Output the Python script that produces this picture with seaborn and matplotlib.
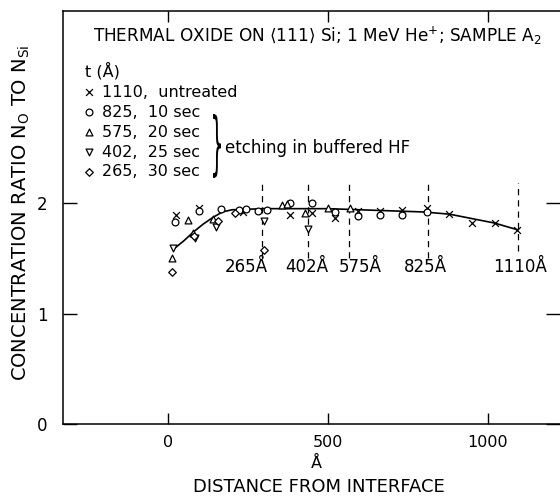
#!/usr/bin/env python3

import matplotlib

matplotlib.use("Agg")
import matplotlib.pylab as plt
import seaborn as sns
from matplotlib.patches import PathPatch
from matplotlib.textpath import TextPath
from matplotlib.transforms import Affine2D, IdentityTransform

sns.set_theme(style="ticks")
plt.rcParams["font.family"] = ["DejaVu Sans"]
plt.rcParams["mathtext.fontset"] = "dejavusans"
plt.rcParams["text.color"] = "black"
plt.rcParams["xtick.color"] = "black"
plt.rcParams["ytick.color"] = "black"

# Series (distance in angstrom, ratio N_O / N_Si)
untreated_x = [25, 97, 234, 381, 450, 522, 594, 662, 731, 809, 878, 950, 1022, 1091]
untreated_y = [1.89, 1.96, 1.92, 1.89, 1.91, 1.87, 1.93, 1.93, 1.94, 1.96, 1.90, 1.82, 1.82, 1.76]

etch10_x = [22, 97, 166, 222, 244, 281, 309, 381, 450, 522, 594, 662, 731, 809]
etch10_y = [1.83, 1.93, 1.95, 1.94, 1.95, 1.93, 1.94, 2.00, 2.00, 1.92, 1.88, 1.89, 1.89, 1.92]

etch20_x = [13, 63, 78, 141, 356, 372, 428, 500, 569]
etch20_y = [1.50, 1.85, 1.73, 1.86, 1.98, 1.99, 1.91, 1.96, 1.96]

etch25_x = [16, 84, 150, 300, 437]
etch25_y = [1.59, 1.68, 1.78, 1.84, 1.77]

etch30_x = [13, 81, 156, 209, 300]
etch30_y = [1.38, 1.70, 1.84, 1.91, 1.58]

# hand-drawn trend curve
curve_x = [16, 50, 80, 110, 140, 170, 200, 300, 400, 500, 600, 700, 800, 880, 950, 1020, 1091]
curve_y = [1.58, 1.66, 1.74, 1.81, 1.87, 1.92, 1.94, 1.95, 1.95, 1.95, 1.94, 1.93, 1.92, 1.90, 1.86, 1.82, 1.76]

# interface positions of the etched samples (dashed markers)
surface_x = [294, 438, 566, 812, 1094]
surface_bottom = [1.50, 1.50, 1.50, 1.50, 1.57]
surface_labels = ["265Å", "402Å", "575Å", "825Å", "1110Å"]
surface_label_x = [244, 434, 600, 806, 1100]

series = [
    (untreated_x, untreated_y, "x", "1110,  untreated"),
    (etch10_x, etch10_y, "o", "825,  10 sec"),
    (etch20_x, etch20_y, "^", "575,  20 sec"),
    (etch25_x, etch25_y, "v", "402,  25 sec"),
    (etch30_x, etch30_y, "D", "265,  30 sec"),
]


def draw_brace(fig, x0, y0, w, h):
    """
    Tall thin curly brace, in pixel coordinates from bottom left
    """
    tp = TextPath((0, 0), "}", size=1)
    ext = tp.get_extents()
    tr = (
        Affine2D()
        .translate(-ext.x0, -ext.y0)
        .scale(w / ext.width, h / ext.height)
        .translate(x0, y0)
    )
    patch = PathPatch(tr.transform_path(tp), color="black", lw=0)
    patch.set_transform(IdentityTransform())
    fig.add_artist(patch)


def main():
    fig = plt.figure(figsize=(5.6, 5.0), dpi=100)
    ax = fig.add_axes([63 / 560, 76 / 500, 497 / 560, 413 / 500])

    sns.lineplot(x=curve_x, y=curve_y, ax=ax, color="black", lw=1.2, zorder=2, sort=False)

    for x, lo in zip(surface_x, surface_bottom):
        ax.vlines(x, lo, 2.18, colors="black", linestyles=(0, (5, 4)), lw=0.9, zorder=1)
    for x, label in zip(surface_label_x, surface_labels):
        ax.text(x, 1.42, label, ha="center", va="center", fontsize=12)

    for xs, ys, marker, label in series:
        if marker == "x":
            sns.scatterplot(
                x=xs, y=ys, ax=ax, marker="x", s=24, color="black",
                linewidth=0.9, label=label, zorder=3,
            )
        else:
            sns.scatterplot(
                x=xs, y=ys, ax=ax, marker=marker, s=24 if marker != "D" else 15,
                facecolor="white", edgecolor="black", linewidth=0.9,
                label=label, zorder=3,
            )

    ax.set_xlim(-328, 1225)
    ax.set_ylim(0, 3.74)
    ax.set_xticks([0, 500, 1000])
    ax.set_yticks([0, 1, 2])
    ax.set_xlabel("")
    ax.set_ylabel("")
    ax.tick_params(axis="x", direction="in", length=8, width=1, top=True,
                   labelsize=11.5, pad=8)
    ax.tick_params(axis="y", direction="in", length=10, width=1, right=True,
                   labelsize=12, pad=11)
    for side in ["left", "bottom", "top"]:
        ax.spines[side].set_linewidth(1.1)
        ax.spines[side].set_color("black")
    ax.spines["right"].set_visible(False)

    ax.legend(
        title="t (Å)",
        loc="upper left",
        bbox_to_anchor=(0.044, 0.876),
        frameon=False,
        fontsize=11.5,
        title_fontsize=11.5,
        handlelength=0.5,
        handletextpad=0.6,
        labelspacing=0.31,
        borderpad=0,
        borderaxespad=0,
        alignment="left",
    )

    ax.text(0.06, 0.94,
            r"THERMAL OXIDE ON $\langle$111$\rangle$ Si; 1 MeV He$^{+}$; SAMPLE A$_2$",
            transform=ax.transAxes, ha="left", va="center", fontsize=12.2)
    draw_brace(fig, 213, 500 - 178, 8, 64)
    ax.text((225 - 63) / 497, (424 - 148) / 413, "etching in buffered HF",
            transform=ax.transAxes, ha="left", va="center", fontsize=12)

    fig.text(21 / 560, 1 - 213 / 500,
             r"CONCENTRATION RATIO N$_\mathregular{O}$ TO N$_\mathregular{Si}$",
             rotation=90, ha="center", va="center", fontsize=14)
    fig.text(316 / 560, 1 - 463 / 500, "Å", ha="center", va="center", fontsize=11.5)
    fig.text(319 / 560, 1 - 487 / 500, "DISTANCE FROM INTERFACE",
             ha="center", va="center", fontsize=13)

    fig.savefig("out.png", dpi=100)


if __name__ == "__main__":
    main()
